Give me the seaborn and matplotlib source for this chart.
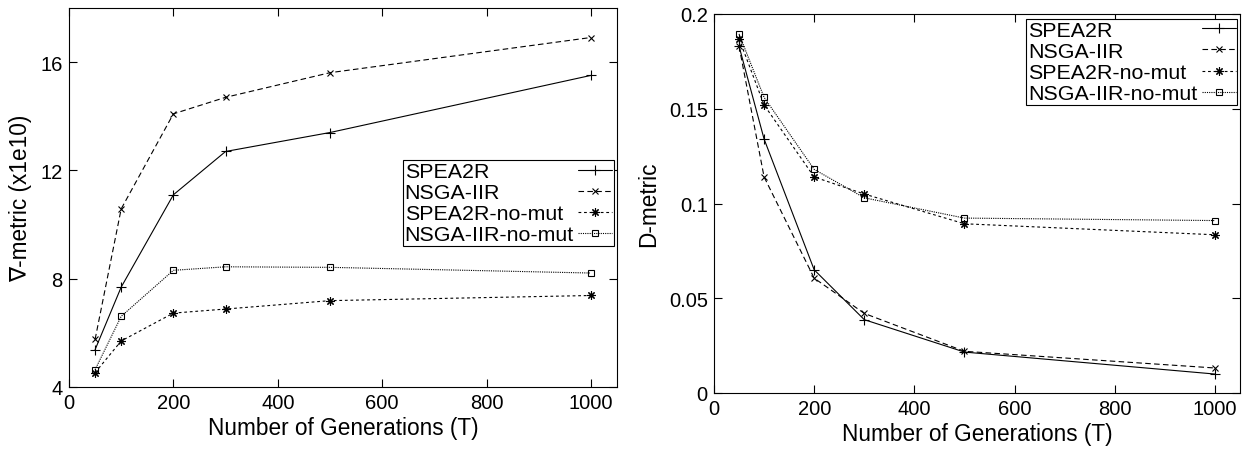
import numpy as np
import pandas as pd
import seaborn as sns
import matplotlib.pyplot as plt

sns.set_style("ticks")
plt.rcParams['font.family'] = ['Liberation Sans', 'DejaVu Sans']
plt.rcParams.update({"text.color": "k", "axes.labelcolor": "k",
                     "xtick.color": "k", "ytick.color": "k"})

generations = [50, 100, 200, 300, 500, 1000]
methods = ["SPEA2R", "NSGA-IIR", "SPEA2R-no-mut", "NSGA-IIR-no-mut"]

# nabla-metric (x1e10)
nabla_spea2r = [5.38, 7.69, 11.10, 12.70, 13.40, 15.51]
nabla_nsga2r = [5.76, 10.58, 14.09, 14.70, 15.61, 16.91]
nabla_spea2r_nm = [4.53, 5.70, 6.73, 6.88, 7.19, 7.38]
nabla_nsga2r_nm = [4.64, 6.61, 8.31, 8.44, 8.42, 8.21]

# D-metric
d_spea2r = [0.183, 0.134, 0.065, 0.0387, 0.0216, 0.0100]
d_nsga2r = [0.183, 0.114, 0.0606, 0.042, 0.0220, 0.0132]
d_spea2r_nm = [0.187, 0.152, 0.114, 0.105, 0.0893, 0.0835]
d_nsga2r_nm = [0.1895, 0.156, 0.118, 0.103, 0.0923, 0.091]

left_yticks = [4, 8, 12, 16]
right_yticks = [0, 0.05, 0.1, 0.15, 0.2]
right_ylabels = ["0", "0.05", "0.1", "0.15", "0.2"]
xticks = [0, 200, 400, 600, 800, 1000]

styles = {
    "SPEA2R": dict(linestyle="-", marker="+", ms=6.5),
    "NSGA-IIR": dict(linestyle=(0, (5, 3)), marker="x", ms=5),
    "SPEA2R-no-mut": dict(linestyle=(0, (2.5, 2.5)), marker=(8, 2, 0), ms=6),
    "NSGA-IIR-no-mut": dict(linestyle=(0, (1, 1)), marker="s", ms=5, mfc="none"),
}

W, H = 1248, 452
fig = plt.figure(figsize=(W / 100, H / 100), dpi=100)
ax1 = fig.add_axes([69 / W, 1 - 388 / H, 548 / W, 379 / H])
ax2 = fig.add_axes([714 / W, 1 - 394 / H, 526 / W, 379 / H])


def draw(ax, series):
    for name, vals in zip(methods, series):
        df = pd.DataFrame({"T": generations, "v": vals})
        sns.lineplot(data=df, x="T", y="v", ax=ax, color="k", lw=0.8,
                     mec="k", mew=0.8, label=name, **styles[name])
    ax.set_xticks(xticks)
    ax.set_xlim(0, 1050)
    ax.tick_params(direction="in", top=True, right=True, length=6,
                   width=0.8, labelsize=14.5, pad=4.5, color="k")
    for s in ax.spines.values():
        s.set_linewidth(0.8)
        s.set_color("k")
    ax.set_xlabel("Number of Generations (T)", fontsize=16.3, labelpad=3)


def left_align(leg):
    # gnuplot style key: text left aligned, samples in a column on the right
    fig.canvas.draw()
    r = fig.canvas.get_renderer()
    widths = [t.get_window_extent(r).width for t in leg.get_texts()]
    wmax = max(widths)
    items = leg._legend_handle_box.get_children()[0].get_children()
    for hp, w in zip(items, widths):
        hp.sep += (wmax - w) * 72 / fig.dpi


draw(ax1, [nabla_spea2r, nabla_nsga2r, nabla_spea2r_nm, nabla_nsga2r_nm])
ax1.set_ylim(4, 18)
ax1.set_yticks(left_yticks)
ax1.set_ylabel("\u2207-metric (x1e10)", fontsize=16.3, labelpad=6)

draw(ax2, [d_spea2r, d_nsga2r, d_spea2r_nm, d_nsga2r_nm])
ax2.set_ylim(0, 0.2)
ax2.set_yticks(right_yticks, right_ylabels)
ax2.set_ylabel("D-metric", fontsize=16.3, labelpad=6)

leg_kw = dict(loc="upper right", markerfirst=False, fontsize=15.4, frameon=True,
              fancybox=False, edgecolor="k", framealpha=1, borderaxespad=0,
              borderpad=0.08, labelspacing=0.1, handlelength=1.6,
              handletextpad=0.2)
leg1 = ax1.legend(bbox_to_anchor=(0.9947, 0.598), **leg_kw)
leg2 = ax2.legend(bbox_to_anchor=(0.9952, 0.9868), **leg_kw)
for leg in (leg1, leg2):
    leg.get_frame().set_linewidth(0.8)
    left_align(leg)

fig.savefig("out.png", dpi=100)
